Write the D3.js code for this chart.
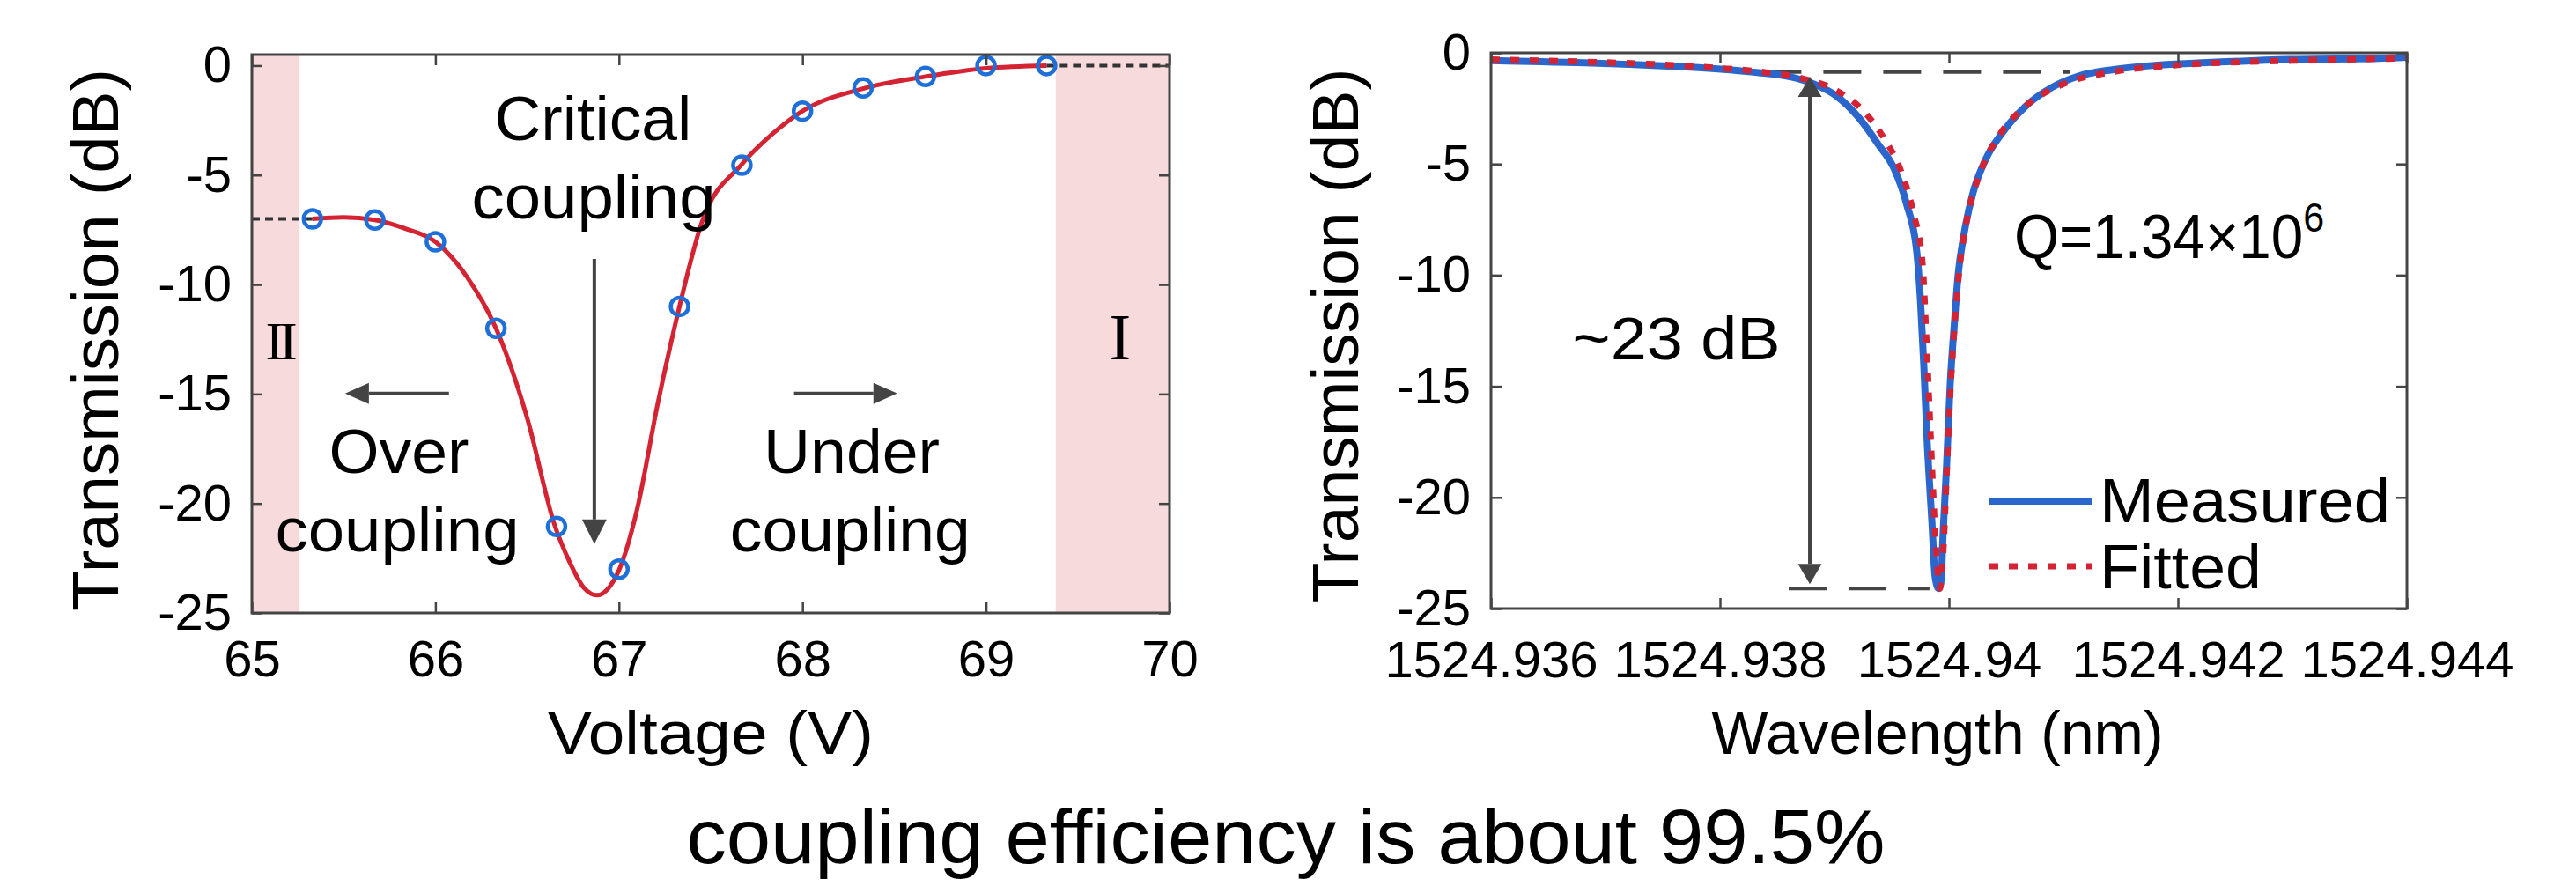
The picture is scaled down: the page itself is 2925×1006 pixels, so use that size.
<!DOCTYPE html>
<html>
<head>
<meta charset="utf-8">
<script src="https://cdn.jsdelivr.net/npm/d3@7.9.0/dist/d3.min.js"></script>
<style>
  body { margin: 0; background: #fff; }
  svg { display: block; font-family: "Liberation Sans", Arial, Helvetica, sans-serif; }
</style>
</head>
<body>
<svg id="chart" width="2925" height="1006"></svg>
<script>
// ---------- Data: left panel (transmission vs voltage) ----------
const voltageTicks = [65, 66, 67, 68, 69, 70];
const dbTicks = [0, -5, -10, -15, -20, -25];

const measuredVoltage = [65.33, 65.67, 66.0, 66.33, 66.66, 67.0, 67.33, 67.67, 68.0, 68.33, 68.67, 69.0, 69.33];
const measuredDb = [-7.0, -7.05, -8.05, -12.0, -21.05, -23.0, -11.0, -4.55, -2.08, -1.02, -0.5, 0.0, 0.0];

const fitVoltage = [65.33, 65.5, 65.67, 65.83, 66.0, 66.17, 66.33, 66.5, 66.65, 66.73, 66.81, 66.88,
  66.95, 67.0, 67.05, 67.1, 67.21, 67.33, 67.45, 67.67, 67.83, 68.0, 68.33, 68.67, 69.0, 69.33];
const fitDb = [-7.0, -6.93, -7.05, -7.43, -8.05, -9.63, -12.0, -16.1, -21.0, -22.65, -23.86, -24.19,
  -23.79, -23.05, -21.84, -20.23, -15.5, -11.0, -7.2, -4.5, -3.17, -2.08, -1.05, -0.5, -0.12, 0.0];

// shaded regimes (voltage ranges)
const regionII = [65, 65.26];
const regionI = [69.38, 70];

// ---------- Data: right panel (transmission vs wavelength) ----------
const wavelengthTicks = [1524.936, 1524.938, 1524.940, 1524.942, 1524.944];
const wavelengthLabels = ["1524.936", "1524.938", "1524.94", "1524.942", "1524.944"];

const measWavelength = [1524.93600, 1524.93644, 1524.93682, 1524.93721, 1524.93759, 1524.93798, 1524.93836,
  1524.93859, 1524.93882, 1524.93902, 1524.93921, 1524.93938, 1524.93952, 1524.93963, 1524.93972, 1524.93975,
  1524.93978, 1524.93981, 1524.93985, 1524.93988, 1524.93991, 1524.93993, 1524.93995, 1524.93998, 1524.94001,
  1524.94005, 1524.94008, 1524.94013, 1524.94021, 1524.94032, 1524.94048, 1524.94067, 1524.94090, 1524.94113,
  1524.94144, 1524.94182, 1524.94221, 1524.94298, 1524.94375, 1524.94400];
const measTrans = [-0.35, -0.40, -0.45, -0.52, -0.60, -0.72, -0.90,
  -1.05, -1.40, -1.95, -2.9, -4.1, -5.2, -6.8, -9.0, -11.0,
  -14.0, -17.5, -21.0, -23.6, -24.1, -23.8, -21.5, -18.5, -15.0,
  -12.0, -10.0, -8.2, -6.3, -4.8, -3.5, -2.4, -1.55, -1.05,
  -0.75, -0.55, -0.45, -0.30, -0.25, -0.2];

const fitWavelength = [1524.93600, 1524.93682, 1524.93759, 1524.93798, 1524.93836, 1524.93872, 1524.93902,
  1524.93925, 1524.93944, 1524.93958, 1524.93969, 1524.93977, 1524.93980, 1524.93983, 1524.93986, 1524.93989,
  1524.93992, 1524.93995, 1524.93998, 1524.94001, 1524.94005, 1524.94009, 1524.94015, 1524.94028, 1524.94044,
  1524.94067, 1524.94100, 1524.94144, 1524.94200, 1524.94300, 1524.94400];
const fitTrans = [-0.30, -0.40, -0.55, -0.68, -0.85, -1.15, -1.7,
  -2.6, -3.9, -5.3, -7.2, -9.5, -12.5, -16.0, -19.5, -22.5,
  -24.1, -22.5, -19.0, -15.5, -12.2, -9.8, -7.7, -5.3, -3.7,
  -2.4, -1.4, -0.85, -0.55, -0.35, -0.25];

// extinction markers
const offResonanceDb = -0.86;
const dipDb = -24.1;

// ---------- Setup ----------
const svg = d3.select("#chart");
svg.append("rect").attr("width", 2925).attr("height", 1006).attr("fill", "#fff");

const leftBox = { x0: 286, x1: 1328, y0: 62, y1: 696 };
const rightBox = { x0: 1693, x1: 2733, y0: 60, y1: 691 };

const xV = d3.scaleLinear().domain([65, 70]).range([leftBox.x0, leftBox.x1]);
const yV = d3.scaleLinear().domain([-25, 0.5]).range([leftBox.y1, leftBox.y0]);
const xW = d3.scaleLinear().domain([1524.936, 1524.944]).range([rightBox.x0, rightBox.x1]);
const yW = d3.scaleLinear().domain([-25, 0]).range([rightBox.y1, rightBox.y0]);

const AXIS = "#444";
const RED = "#d42434";
const BLUE = "#2a66cc";

function text(g, str, x, y, size, opts = {}) {
  const t = g.append("text")
    .attr("font-size", size)
    .attr("fill", "#000")
    .attr("text-anchor", opts.anchor || "middle")
    .text(str);
  if (opts.rotate) {
    t.attr("transform", `translate(${x},${y}) rotate(-90)`);
  } else {
    t.attr("x", x).attr("y", y);
  }
  if (opts.len) t.attr("textLength", opts.len).attr("lengthAdjust", "spacingAndGlyphs");
  if (opts.family) t.attr("font-family", opts.family);
  return t;
}

function arrow(g, x1, y1, x2, y2, headLen, headW) {
  const ang = Math.atan2(y2 - y1, x2 - x1);
  const bx = x2 - headLen * Math.cos(ang), by = y2 - headLen * Math.sin(ang);
  g.append("line").attr("x1", x1).attr("y1", y1).attr("x2", bx).attr("y2", by)
    .attr("stroke", AXIS).attr("stroke-width", 4);
  const px = -Math.sin(ang) * headW / 2, py = Math.cos(ang) * headW / 2;
  g.append("path")
    .attr("d", `M${x2},${y2}L${bx + px},${by + py}L${bx - px},${by - py}Z`)
    .attr("fill", AXIS);
}

function drawAxes(g, x, y, xTicks, xLabels, yTicks, xPad) {
  const [xa, xb] = x.range();
  const [yb, ya] = y.range();
  const tick = 12;

  g.append("g").attr("transform", `translate(0,${yb})`)
    .call(d3.axisBottom(x).tickValues(xTicks).tickFormat((d, i) => xLabels[i])
      .tickSizeInner(-tick).tickSizeOuter(0).tickPadding(xPad));
  g.append("g").attr("transform", `translate(0,${ya})`)
    .call(d3.axisTop(x).tickValues(xTicks).tickFormat("").tickSizeInner(-tick).tickSizeOuter(0));
  g.append("g").attr("transform", `translate(${xa},0)`)
    .call(d3.axisLeft(y).tickValues(yTicks).tickFormat(d3.format("d"))
      .tickSizeInner(-tick).tickSizeOuter(0).tickPadding(23));
  g.append("g").attr("transform", `translate(${xb},0)`)
    .call(d3.axisRight(y).tickValues(yTicks).tickFormat("").tickSizeInner(-tick).tickSizeOuter(0));

  g.selectAll(".domain").remove();
  g.selectAll(".tick line").attr("stroke", AXIS).attr("stroke-width", 2.5);
  g.selectAll(".tick text").filter(function () { return !this.textContent; }).remove();
  g.selectAll(".tick text")
    .attr("font-size", 58)
    .attr("font-family", '"Liberation Sans", Arial, sans-serif')
    .attr("fill", "#000")
    .text(function () { return this.textContent.replace("\u2212", "-"); });

  g.append("rect")
    .attr("x", xa).attr("y", ya)
    .attr("width", xb - xa).attr("height", yb - ya)
    .attr("fill", "none").attr("stroke", AXIS).attr("stroke-width", 3);
}

// ---------- Left panel ----------
const L = svg.append("g");

[regionII, regionI].forEach(r => {
  L.append("rect")
    .attr("x", xV(r[0])).attr("y", yV(0.5))
    .attr("width", xV(r[1]) - xV(r[0]))
    .attr("height", yV(-25) - yV(0.5))
    .attr("fill", "#f7dadb");
});

// guide dotted lines to the plateau levels
L.append("line")
  .attr("x1", xV(65)).attr("x2", xV(measuredVoltage[0]))
  .attr("y1", yV(measuredDb[0])).attr("y2", yV(measuredDb[0]))
  .attr("stroke", "#333").attr("stroke-width", 4).attr("stroke-dasharray", "9,6");
L.append("line")
  .attr("x1", xV(measuredVoltage[measuredVoltage.length - 1])).attr("x2", xV(70))
  .attr("y1", yV(0)).attr("y2", yV(0))
  .attr("stroke", "#333").attr("stroke-width", 4).attr("stroke-dasharray", "9,6");

const fitLine = d3.line().x(d => xV(d[0])).y(d => yV(d[1])).curve(d3.curveMonotoneX);
L.append("path")
  .attr("d", fitLine(d3.zip(fitVoltage, fitDb)))
  .attr("fill", "none").attr("stroke", RED).attr("stroke-width", 5);

L.selectAll("circle.pt")
  .data(d3.zip(measuredVoltage, measuredDb))
  .join("circle")
  .attr("class", "pt")
  .attr("cx", d => xV(d[0])).attr("cy", d => yV(d[1]))
  .attr("r", 10)
  .attr("fill", "none").attr("stroke", "#1f6fd8").attr("stroke-width", 4.5);

// annotations
arrow(L, xV(66.866), yV(-8.83), xV(66.866), yV(-21.85), 28, 28);
arrow(L, xV(66.074), yV(-14.97), xV(65.508), yV(-14.97), 27, 24);
arrow(L, xV(67.954), yV(-14.97), xV(68.516), yV(-14.97), 27, 24);

text(L, "Critical", xV(66.859), yV(-3.40), 70, { len: 224 });
text(L, "coupling", xV(66.862), yV(-6.98), 70, { len: 277 });
text(L, "Over", xV(65.801), yV(-18.6), 70, { len: 159 });
text(L, "coupling", xV(65.792), yV(-22.18), 70, { len: 277 });
text(L, "Under", xV(68.268), yV(-18.6), 70, { len: 200 });
text(L, "coupling", xV(68.26), yV(-22.18), 70, { len: 273 });

text(L, "II", xV(65.149), yV(-13.42), 62, { family: '"Liberation Serif", "Times New Roman", serif' })
  .attr("letter-spacing", -5);
text(L, "I", xV(69.731), yV(-13.42), 74, { family: '"Liberation Serif", "Times New Roman", serif' });

drawAxes(L, xV, yV, voltageTicks, voltageTicks.map(String), dbTicks, 31);

text(L, "Transmission (dB)", 134, 386, 74, { rotate: true, len: 616 });
text(L, "Voltage (V)", (leftBox.x0 + leftBox.x1) / 2, 856, 68, { len: 370 });

// ---------- Right panel ----------
const R = svg.append("g");

R.append("line")
  .attr("x1", xW(1524.93838)).attr("x2", xW(1524.94106))
  .attr("y1", yW(offResonanceDb)).attr("y2", yW(offResonanceDb))
  .attr("stroke", AXIS).attr("stroke-width", 4).attr("stroke-dasharray", "43,25");
R.append("line")
  .attr("x1", xW(1524.93860)).attr("x2", xW(1524.93983))
  .attr("y1", yW(dipDb)).attr("y2", yW(dipDb))
  .attr("stroke", AXIS).attr("stroke-width", 4).attr("stroke-dasharray", "43,25");

const wLine = d3.line().x(d => xW(d[0])).y(d => yW(d[1])).curve(d3.curveMonotoneX);
R.append("path")
  .attr("d", wLine(d3.zip(measWavelength, measTrans)))
  .attr("fill", "none").attr("stroke", BLUE).attr("stroke-width", 8).attr("stroke-linejoin", "round");
R.append("path")
  .attr("d", wLine(d3.zip(fitWavelength, fitTrans)))
  .attr("fill", "none").attr("stroke", RED).attr("stroke-width", 7).attr("stroke-dasharray", "10,12");

// double-headed extinction arrow
const ax = xW(1524.938785);
const aTop = yW(-1.07), aBot = yW(-23.9), aMid = (aTop + aBot) / 2;
arrow(R, ax, aMid, ax, aTop, 23, 27);
arrow(R, ax, aMid, ax, aBot, 23, 27);

text(R, "~23 dB", xW(1524.93762), yW(-13.8), 68, { len: 236 });
const q = text(R, "Q=1.34\u00d710", xW(1524.94057), yW(-9.23), 70, { anchor: "start", len: 352 });
q.append("tspan").attr("dy", -30).attr("font-size", 46).text("6");

// legend
const legendX0 = 2259, legendX1 = 2375;
R.append("line").attr("x1", legendX0).attr("x2", legendX1).attr("y1", 569).attr("y2", 569)
  .attr("stroke", BLUE).attr("stroke-width", 8);
R.append("line").attr("x1", legendX0).attr("x2", legendX1).attr("y1", 643).attr("y2", 643)
  .attr("stroke", RED).attr("stroke-width", 7).attr("stroke-dasharray", "10,12");
text(R, "Measured", 2384, 593, 70, { anchor: "start", len: 330 });
text(R, "Fitted", 2384, 668, 70, { anchor: "start", len: 184 });

drawAxes(R, xW, yW, wavelengthTicks, wavelengthLabels, dbTicks, 37);

text(R, "Transmission (dB)", 1542, 381, 74, { rotate: true, len: 607 });
text(R, "Wavelength (nm)", 2200, 856, 68, { len: 513 });

// ---------- Caption ----------
text(svg, "coupling efficiency is about 99.5%", 1460, 980, 88, { len: 1361 });
</script>
</body>
</html>
